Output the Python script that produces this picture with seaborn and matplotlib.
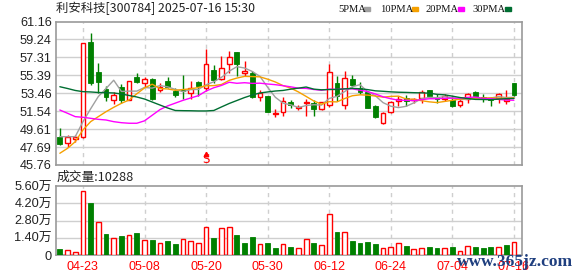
import numpy as np
import pandas as pd
import matplotlib
matplotlib.use("Agg")
import matplotlib.pyplot as plt
import seaborn as sns

# ---------------- data ----------------
title_text = "利安科技[300784] 2025-07-16 15:30"
opens = [48.73, 48.09, 48.50, 48.73, 58.96, 55.77, 53.89, 52.74, 54.16, 52.74,
         55.17, 54.53, 54.96, 53.82, 54.78, 53.73, 53.90, 53.46, 54.65, 54.02,
         55.96, 54.99, 56.65, 57.89, 55.67, 55.63, 53.09, 53.17, 51.23, 51.42,
         52.55, 51.90, 52.45, 52.38, 51.80, 52.20, 54.59, 52.20, 54.96, 53.97,
         53.60, 52.09, 50.30, 51.48, 52.63, 52.92, 52.70, 52.92, 53.81, 53.09,
         52.88, 52.74, 52.20, 52.81, 53.63, 53.03, 52.88, 52.98, 52.66, 54.53]
highs = [49.73, 48.98, 49.00, 58.80, 59.89, 56.74, 54.24, 53.60, 54.45, 54.80,
         55.67, 55.24, 55.10, 54.60, 55.17, 53.99, 55.42, 54.78, 54.75, 58.18,
         56.49, 57.46, 58.03, 57.90, 56.92, 55.90, 53.81, 53.20, 51.77, 53.03,
         52.74, 52.20, 52.81, 52.74, 52.55, 56.57, 55.31, 55.80, 55.42, 54.67,
         53.65, 52.20, 51.48, 52.66, 53.17, 53.24, 52.98, 53.81, 53.85, 53.38,
         53.38, 53.17, 52.92, 53.52, 53.70, 53.38, 53.03, 53.52, 53.81, 54.60]
lows = [47.88, 47.66, 48.20, 48.70, 54.35, 53.52, 52.66, 52.31, 52.45, 52.70,
        54.53, 54.10, 52.75, 53.55, 53.99, 53.09, 52.81, 52.81, 53.20, 53.70,
        54.59, 54.90, 55.63, 55.31, 55.31, 52.90, 52.66, 51.40, 50.91, 50.99,
        51.88, 51.66, 51.02, 51.02, 51.70, 51.99, 52.66, 51.74, 54.16, 53.35,
        51.90, 50.77, 50.16, 51.30, 52.13, 52.13, 52.38, 52.45, 53.10, 52.38,
        52.66, 52.00, 51.95, 52.45, 53.10, 52.55, 52.13, 52.45, 52.31, 53.20]
closes = [48.02, 48.73, 48.80, 58.80, 54.59, 54.64, 53.03, 53.24, 52.74, 54.78,
          54.67, 54.97, 52.88, 54.15, 54.10, 53.27, 53.75, 53.99, 54.25, 56.58,
          54.88, 56.14, 57.32, 56.65, 55.85, 53.06, 53.46, 51.48, 51.30, 52.68,
          52.20, 51.97, 52.55, 51.74, 52.50, 55.74, 53.13, 55.07, 54.35, 53.63,
          51.93, 50.95, 51.37, 52.49, 52.88, 52.63, 52.80, 53.56, 53.17, 52.81,
          53.17, 52.09, 52.66, 53.38, 53.17, 52.81, 52.74, 53.38, 52.88, 53.27]
ma5 = [48.80, 48.80, 48.80, 50.40, 51.79, 53.11, 53.97, 54.86, 53.65, 53.69,
       53.69, 54.08, 54.01, 54.29, 54.15, 53.87, 53.63, 53.85, 53.87, 54.37,
       54.69, 55.17, 55.83, 56.31, 56.17, 55.80, 55.27, 54.10, 53.03, 52.40,
       52.22, 51.93, 52.14, 52.23, 52.19, 52.90, 53.13, 53.64, 54.16, 54.38,
       53.62, 53.19, 52.45, 52.07, 51.92, 52.06, 52.43, 52.87, 53.01, 52.99,
       53.10, 52.96, 52.78, 52.82, 52.89, 52.82, 52.95, 53.10, 53.00, 53.02]
ma10 = [47.02, 47.55, 48.26, 49.52, 50.41, 50.95, 51.48, 51.95, 52.38, 52.74,
        53.40, 54.03, 54.43, 53.97, 53.92, 53.78, 53.86, 53.93, 54.08, 54.26,
        54.28, 54.40, 54.84, 55.09, 55.27, 55.25, 55.22, 54.97, 54.67, 54.28,
        54.01, 53.60, 53.12, 52.63, 52.29, 52.56, 52.53, 52.89, 53.19, 53.29,
        53.26, 53.16, 53.04, 53.12, 53.15, 52.84, 52.81, 52.66, 52.54, 52.46,
        52.58, 52.70, 52.83, 52.92, 52.94, 52.96, 52.96, 52.94, 52.91, 52.96]
ma20 = [51.66, 51.31, 50.95, 50.88, 50.77, 50.66, 50.59, 50.41, 50.30, 50.24,
        50.24, 50.50, 51.10, 51.70, 52.10, 52.40, 52.70, 52.95, 53.20, 53.70,
        54.05, 54.30, 54.64, 54.53, 54.59, 54.52, 54.54, 54.45, 54.38, 54.27,
        54.15, 54.00, 53.98, 53.86, 53.78, 53.90, 53.87, 53.93, 53.93, 53.79,
        53.64, 53.38, 53.08, 52.87, 52.72, 52.70, 52.67, 52.77, 52.87, 52.87,
        52.92, 52.93, 52.93, 53.02, 53.05, 52.90, 52.88, 52.80, 52.73, 52.71]
ma30 = [54.16, 53.97, 53.76, 53.63, 53.60, 53.54, 53.52, 53.49, 53.38, 53.22,
        53.06, 52.84, 52.52, 52.20, 51.88, 51.61, 51.59, 51.58, 51.56, 51.56,
        51.61, 51.99, 52.36, 52.68, 53.00, 53.27, 53.49, 53.60, 53.70, 53.76,
        53.90, 54.01, 54.13, 53.90, 53.83, 53.86, 53.87, 53.93, 53.98, 53.94,
        53.85, 53.72, 53.67, 53.61, 53.57, 53.55, 53.52, 53.50, 53.47, 53.34,
        53.29, 53.15, 53.00, 52.89, 52.80, 52.79, 52.77, 52.83, 52.88, 52.90]
volume_wan = [0.49, 0.38, 0.22, 5.19, 4.22, 2.65, 1.70, 1.35, 1.54, 1.62,
              1.81, 1.22, 1.22, 0.97, 1.14, 0.89, 1.27, 1.14, 0.97, 2.25,
              1.38, 2.16, 2.25, 1.62, 1.00, 1.46, 0.89, 0.97, 0.57, 0.87,
              0.65, 0.54, 1.27, 0.97, 0.78, 3.33, 1.87, 1.87, 1.14, 0.97,
              1.05, 0.89, 0.54, 0.62, 0.97, 0.73, 0.49, 0.54, 0.62, 0.57,
              0.57, 0.65, 0.32, 0.73, 0.65, 0.57, 0.65, 0.65, 0.81, 1.0288]
volume_up = [0, 1, 1, 1, 0, 1, 0, 1, 0, 1, 0, 1, 0, 1, 0, 0, 1, 1, 1, 1,
             0, 1, 1, 0, 0, 0, 1, 0, 0, 1, 0, 1, 1, 0, 1, 1, 0, 1, 0, 0,
             0, 0, 1, 1, 1, 0, 1, 1, 0, 0, 1, 0, 1, 1, 0, 0, 0, 1, 0, 1]
date_tick_idx = [3, 11, 19, 27, 35, 43, 51, 59]
date_tick_labels = ["04-23", "05-08", "05-20", "05-30", "06-12", "06-24", "07-04", "07-16"]
price_tick_labels = ["45.76", "47.69", "49.61", "51.54", "53.46", "55.39", "57.31", "59.24", "61.16"]
vol_tick_vals = [0, 1.4, 2.8, 4.2, 5.6]
vol_tick_labels = ["0", "1.40万", "2.80万", "4.20万", "5.60万"]
signal_idx = [19]
signal_text = "S"
vol_label = "成交量:10288"
ma_names = ["5PMA", "10PMA", "20PMA", "30PMA"]
watermark = "www.365jz.com"

# ---------------- style ----------------
sns.set_theme(style="white")
plt.rcParams['font.family'] = ['Liberation Sans', 'Noto Sans CJK SC', 'DejaVu Sans']

RED = "#ff0000"
GREEN = "#008000"
ma_colors = ["#a0a0a0", "#f5a000", "#ff00ff", "#006e32"]
GRID = "#cfcfcf"
FRAME = "#9a9a9a"

n = len(closes)
idx = np.arange(n)
df = pd.DataFrame({"i": idx, "open": opens, "high": highs, "low": lows,
                   "close": closes, "vol": volume_wan, "vup": volume_up})
ma_df = pd.DataFrame({"i": idx, "5PMA": ma5, "10PMA": ma10, "20PMA": ma20, "30PMA": ma30})
ma_long = ma_df.melt(id_vars="i", var_name="ma", value_name="val")

W, H = 578, 276
fig = plt.figure(figsize=(W / 100, H / 100), dpi=100)
fig.patch.set_facecolor("white")
ax1 = fig.add_axes([56 / W, (H - 165) / H, 466 / W, 143.5 / H])
ax2 = fig.add_axes([56 / W, (H - 255) / H, 466 / W, 69 / H])

price_ticks = [float(t) for t in price_tick_labels]
for ax in (ax1, ax2):
    ax.set_facecolor("white")
    ax.set_xlim(-0.5, n + 0.05)
    for s in ax.spines.values():
        s.set_color(FRAME)
        s.set_linewidth(1.2)
        s.set_visible(True)
    for xi in date_tick_idx:
        ax.axvline(xi, color=GRID, lw=1.0, ls=(0, (3, 3)), zorder=0)
    ax.tick_params(axis="both", length=0, pad=3, labelsize=9.2, colors="#222222")

# price panel
ax1.set_ylim(price_ticks[0], price_ticks[-1])
ax1.set_yticks(price_ticks)
ax1.set_yticklabels(price_tick_labels)
ax1.set_xticks([])
for t in price_ticks[1:-1]:
    ax1.axhline(t, color=GRID, lw=1.0, zorder=0)

up = df["close"] >= df["open"]
body_w = 0.62
ax1.vlines(df.loc[up, "i"], df.loc[up, "low"], df.loc[up, "high"], color=RED, lw=1.0, zorder=2)
ax1.vlines(df.loc[~up, "i"], df.loc[~up, "low"], df.loc[~up, "high"], color=GREEN, lw=1.0, zorder=2)
bot = np.minimum(df["open"], df["close"])
hgt = np.maximum(np.abs(df["close"] - df["open"]), 0.04)
ax1.bar(df.loc[up, "i"], hgt[up], bottom=bot[up], width=body_w,
        facecolor="white", edgecolor=RED, linewidth=1.0, zorder=3)
ax1.bar(df.loc[~up, "i"], hgt[~up], bottom=bot[~up], width=body_w,
        facecolor=GREEN, edgecolor=GREEN, linewidth=0.6, zorder=3)

sns.lineplot(data=ma_long, x="i", y="val", hue="ma", hue_order=ma_names,
             palette=ma_colors, linewidth=1.0, legend=False, ax=ax1, zorder=4)
ax1.set_xlabel("")
ax1.set_ylabel("")
ax1.set_xlim(-0.5, n + 0.05)

for si in signal_idx:
    ax1.plot([si], [46.95], marker="^", color=RED, markersize=3.2, zorder=5)
    ax1.text(si, 46.35, signal_text, color=RED, fontsize=8.5, ha="center", va="center",
             family=["DejaVu Sans"], zorder=5)

# volume panel
ax2.set_ylim(0, vol_tick_vals[-1])
ax2.set_yticks(vol_tick_vals)
ax2.set_yticklabels(vol_tick_labels)
for t in vol_tick_vals[1:-1]:
    ax2.axhline(t, color=GRID, lw=1.0, zorder=0)
vu = df["vup"] == 1
ax2.bar(df.loc[vu, "i"], df.loc[vu, "vol"], width=body_w, facecolor="white",
        edgecolor=RED, linewidth=1.0, zorder=3)
ax2.bar(df.loc[~vu, "i"], df.loc[~vu, "vol"], width=body_w, facecolor=GREEN,
        edgecolor=GREEN, linewidth=0.6, zorder=3)
ax2.set_xticks(date_tick_idx)
ax2.set_xticklabels(date_tick_labels, color=RED, fontsize=9)
ax2.tick_params(axis="x", pad=4, colors=RED)
ax2.set_xlim(-0.5, n + 0.05)

# texts
cjk = ['Noto Sans CJK SC', 'DejaVu Sans']
fig.text(56 / W, 1 - 8.5 / H, title_text, fontsize=8.9, color="#222222",
         ha="left", va="center", family=cjk)
fig.text(57 / W, 1 - 177 / H, vol_label, fontsize=9.2, color="#222222",
         ha="left", va="center", family=cjk)

leg_x = [338, 380, 426, 472]
mark_x = [364, 412, 458, 505]
for name, col, lx, mx in zip(ma_names, ma_colors, leg_x, mark_x):
    fig.text(lx / W, 1 - 9 / H, name, fontsize=7.6, color="#111111", ha="left", va="center",
             family=["Liberation Serif", "DejaVu Serif"])
    fig.patches.append(plt.Rectangle((mx / W, 1 - 11 / H), 6 / W, 4 / H,
                                     transform=fig.transFigure, color=col))

fig.text(457 / W, 1 - 262 / H, watermark, fontsize=12.5, color="#1f3f7f",
         ha="left", va="center", family=["Liberation Serif", "DejaVu Serif"],
         fontweight="bold", zorder=10)

fig.savefig("out.png", dpi=100, facecolor="white")
